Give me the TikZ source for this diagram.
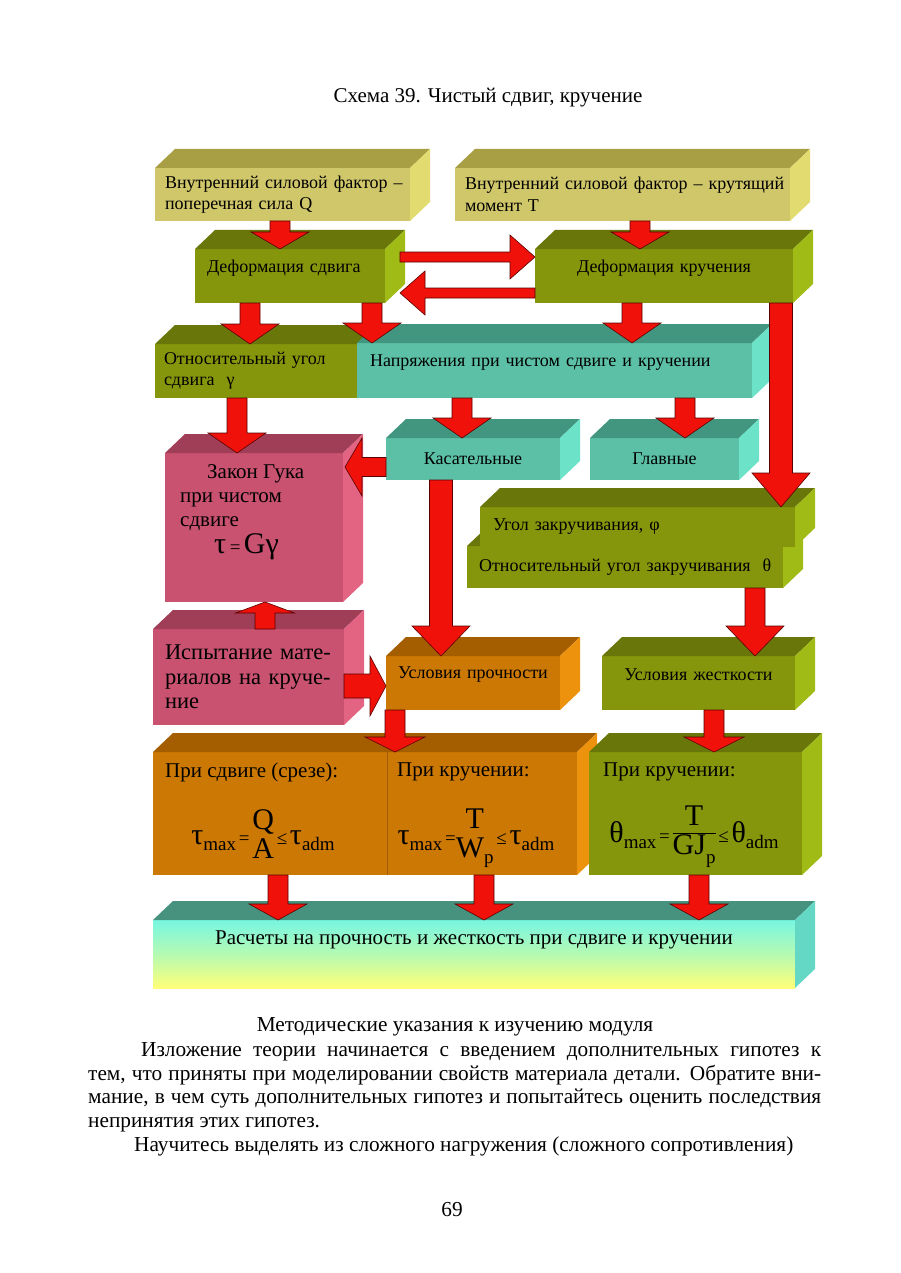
\documentclass[tikz,border=0pt]{standalone}
\usepackage{fontspec}
\setmainfont{Liberation Serif}
\usepackage{tikz}
\usetikzlibrary{calc}

\definecolor{khakifront}{RGB}{208,199,107}
\definecolor{khakitop}{RGB}{168,158,68}
\definecolor{khakiside}{RGB}{226,220,112}
\definecolor{olivefront}{RGB}{134,150,12}
\definecolor{olivetop}{RGB}{104,118,10}
\definecolor{oliveside}{RGB}{160,186,22}
\definecolor{tealfront}{RGB}{92,192,166}
\definecolor{tealtop}{RGB}{66,150,128}
\definecolor{tealside}{RGB}{108,226,200}
\definecolor{pinkfront}{RGB}{200,82,112}
\definecolor{pinktop}{RGB}{160,62,88}
\definecolor{pinkside}{RGB}{226,100,130}
\definecolor{orangefront}{RGB}{204,120,4}
\definecolor{orangetop}{RGB}{164,94,0}
\definecolor{orangeside}{RGB}{236,146,12}
\definecolor{calctop}{RGB}{70,146,126}
\definecolor{calcside}{RGB}{100,216,196}
\definecolor{calcup}{RGB}{120,246,226}
\definecolor{calcdown}{RGB}{255,255,120}
\definecolor{arrred}{RGB}{240,18,10}
\definecolor{arrline}{RGB}{90,0,0}

\newcommand{\boxfont}{\fontsize{18}{21.5}\selectfont}
\newcommand{\bigboxfont}{\fontsize{21}{24}\selectfont}
\newcommand{\pagefont}{\fontsize{21.3}{23.6}\selectfont}
\newcommand{\headfont}{\fontsize{21}{24}\selectfont}
\newcommand{\fbig}{\fontsize{30}{30}\selectfont}
\newcommand{\fsml}{\fontsize{19}{19}\selectfont}
\newcommand{\low}[1]{\raisebox{-6pt}{\fsml #1}}
\newcommand{\stk}[2]{\begin{tabular}{@{}c@{}}#1\\[-1pt]#2\end{tabular}}
\newcommand{\upt}[1]{\raisebox{8pt}[\height][\depth]{#1}}

% top and side faces of a box node
\newcommand{\cubefaces}[2]{%
  \fill[#2top] (#1.north west) -- ++(20,-19) -- ([shift={(20,-19)}]#1.north east) -- (#1.north east) -- cycle;
  \fill[#2side] (#1.north east) -- ++(20,-19) -- ([shift={(20,-19)}]#1.south east) -- (#1.south east) -- cycle;
}

\tikzset{
  cube/.style={anchor=north west, inner sep=0pt, outer sep=0pt, font=\boxfont, align=left},
  redarrow/.style={fill=arrred, draw=arrline, line width=0.6pt, line join=miter},
  blk/.style n args={3}{redarrow, to path={
    ($(\tikztotarget)!#3!(\tikztostart)$) coordinate (hb)
    ($(\tikztostart)!#1!90:(\tikztotarget)$) -- ($(hb)!#1!90:(\tikztotarget)$)
    -- ($(hb)!#2!90:(\tikztotarget)$) -- (\tikztotarget)
    -- ($(hb)!#2!-90:(\tikztotarget)$) -- ($(hb)!#1!-90:(\tikztotarget)$)
    -- ($(\tikztostart)!#1!-90:(\tikztotarget)$) -- cycle}},
  pageline/.style={anchor=base west, inner sep=0pt, font=\pagefont},
}

\begin{document}
\begin{tikzpicture}[x=1pt, y=-1pt]
\fill[white] (0,0) rectangle (900,1273);
\useasboundingbox (0,0) rectangle (900,1273);

\node[anchor=base, font=\fontsize{21}{24}\selectfont] (title) at (488,103) {Схема 39. Чистый сдвиг, кручение};

% boxes
\node[cube, fill=khakifront, minimum width=255, minimum height=53, text width=235] (fqA) at (155,168) {\mbox{Внутренний силовой фактор --}\\\mbox{поперечная сила Q}};
\cubefaces{fqA}{khaki}
\node[cube, fill=khakifront, minimum width=335, minimum height=53, text width=315] (fqB) at (455,168) {\mbox{Внутренний силовой фактор -- крутящий}\\\mbox{момент T}};
\cubefaces{fqB}{khaki}
\node[cube, fill=olivefront, minimum width=190, minimum height=54, text width=166] (defS) at (195,249) {\upt{Деформация сдвига}};
\cubefaces{defS}{olive}
\node[cube, fill=olivefront, minimum width=258, minimum height=54, text width=240, align=center] (defT) at (535,249) {\upt{Деформация кручения}};
\cubefaces{defT}{olive}
\node[cube, fill=olivefront, minimum width=202, minimum height=54, text width=184] (angS) at (155,344) {\mbox{Относительный угол}\\\mbox{сдвига \ γ}};
\cubefaces{angS}{olive}
\node[cube, fill=tealfront, minimum width=395, minimum height=55, text width=369] (stress) at (357,343) {\upt{Напряжения при чистом сдвиге и кручении}};
\cubefaces{stress}{teal}
\node[cube, fill=pinkfront, minimum width=178, minimum height=149] (hooke) at (165,453) {};
\cubefaces{hooke}{pink}
\node[anchor=north west, align=left, inner sep=0pt, font=\bigboxfont] (hookeTxt) at ($(hooke.north west)+(15,11)$)
  {\hspace*{27pt}Закон Гука\\при чистом\\сдвиге\\[3pt]\hspace*{34pt}{\fbig τ}\,{\fsml =}\,{\fbig Gγ}};
\node[cube, fill=tealfront, minimum width=174, minimum height=42, text width=160, align=center] (tang) at (386,438) {Касательные};
\cubefaces{tang}{teal}
\node[cube, fill=tealfront, minimum width=149, minimum height=42, text width=135, align=center] (princ) at (590,438) {Главные};
\cubefaces{princ}{teal}
\node[cube, fill=olivefront, minimum width=316, minimum height=42, text width=292] (relT) at (467,546) {\mbox{Относительный угол закручивания \ θ}};
\cubefaces{relT}{olive}
\node[cube, fill=olivefront, minimum width=315, minimum height=40, text width=289] (twist) at (480,507) {Угол закручивания, φ};
\cubefaces{twist}{olive}
\node[cube, fill=pinkfront, minimum width=191, minimum height=96, text width=167, font=\fontsize{22.5}{24.5}\selectfont] (test) at (153,629) {\mbox{Испытание мате-}\\\mbox{риалов на круче-}\\ние};
\cubefaces{test}{pink}
\node[cube, fill=orangefront, minimum width=174, minimum height=54, text width=160, align=center] (strC) at (386,656) {\upt{Условия прочности}};
\cubefaces{strC}{orange}
\node[cube, fill=olivefront, minimum width=193, minimum height=54, text width=179, align=center] (rigC) at (602,656) {\upt{Условия жесткости}};
\cubefaces{rigC}{olive}
\node[cube, fill=orangefront, minimum width=424, minimum height=123] (strF) at (153,752) {};
\cubefaces{strF}{orange}
\draw[orangetop, line width=0.5pt] (strF.north -| 387,0) -- (strF.south -| 387,0);
\node[cube, fill=olivefront, minimum width=213, minimum height=123] (rigF) at (589,752) {};
\cubefaces{rigF}{olive}
\node[cube, top color=calcup, bottom color=calcdown, middle color=calcup!55!calcdown, minimum width=642, minimum height=68] (calc) at (153,920) {};
\cubefaces{calc}{calc}

% texts in the formula boxes
\node[anchor=west, inner sep=0pt, font=\headfont] (shearHd) at ($(strF.north west)+(12,20)$) {При сдвиге (срезе):};
\node[anchor=west, inner sep=0pt, font=\headfont] (torHd) at ($(strF.north west)+(244,20)$) {При кручении:};
\node[anchor=west, inner sep=0pt, font=\headfont] (rigHd) at ($(rigF.north west)+(14,20)$) {При кручении:};
\node[inner sep=0pt] (frmShear) at ($(strF.north west)+(110,86)$)
  {{\fbig τ}\low{max}\;{\fsml =}\;{\fbig\stk{Q}{A}}\;{\fsml ≤}\;{\fbig τ}\low{adm}};
\node[inner sep=0pt] (frmTor) at ($(strF.north west)+(323,86)$)
  {{\fbig τ}\low{max}\;{\fsml =}{\fbig\stk{T}{W\low{p}}}\;{\fsml ≤}\;{\fbig τ}\low{adm}};
\node[inner sep=0pt] (frmRig) at ($(rigF.north west)+(105,84)$)
  {{\fbig θ}\low{max}\;{\fsml =}\;{\fbig\begin{tabular}{@{}c@{}}T\\[-2pt]\hline GJ\raisebox{-9pt}{\fsml p}\end{tabular}}\;{\fsml ≤}\;{\fbig θ}\low{adm}};
\node[inner sep=0pt, font=\fontsize{21}{24}\selectfont] (calcTxt) at ($(calc.north)+(0,20)$) {Расчеты на прочность и жесткость при сдвиге и кручении};

% arrows
\draw[blk={10pt}{29pt}{17pt}] (fqA.south -| 280,0) to (defS.north -| 280,0);
\draw[blk={10pt}{29pt}{17pt}] (fqB.south -| 640,0) to (defT.north -| 640,0);
\draw[blk={5pt}{22pt}{25pt}] ($(defS.east)+(15,-19)$) to ($(defT.west)+(0,-19)$);
\draw[blk={5pt}{22pt}{25pt}] ($(defT.west)+(0,17)$) to ($(defS.east)+(15,17)$);
\draw[blk={10pt}{29pt}{20pt}] (defS.south -| 250,0) to (angS.north -| 250,0);
\draw[blk={10pt}{29pt}{20pt}] (defS.south -| 372,0) to (stress.north -| 372,0);
\draw[blk={10pt}{29pt}{20pt}] (defT.south -| 632,0) to (stress.north -| 632,0);
\draw[blk={11.5pt}{29pt}{34pt}] (defT.south -| 781,0) to (twist.north -| 781,0);
\draw[blk={10pt}{29pt}{20pt}] (angS.south -| 237,0) to (hooke.north -| 237,0);
\draw[blk={10pt}{29pt}{20pt}] (stress.south -| 462,0) to (tang.north -| 462,0);
\draw[blk={10pt}{29pt}{20pt}] (stress.south -| 685,0) to (princ.north -| 685,0);
\draw[blk={9.5pt}{29pt}{17pt}] ($(tang.west)+(0,8)$) to ($(hooke.east |- tang.west)+(2,8)$);
\draw[blk={11.5pt}{29pt}{30pt}] (tang.south -| 441,0) to (strC.north -| 441,0);
\draw[blk={10pt}{29pt}{30pt}] (relT.south -| 755,0) to (rigC.north -| 755,0);
\draw[blk={10pt}{29.5pt}{11pt}] (test.north -| 265,0) to (hooke.south -| 265,0);
\draw[blk={12pt}{30pt}{16pt}] ($(test.east)+(0,9)$) to ($(strC.west |- test.east)+(0,9)$);
\draw[blk={10pt}{30pt}{15pt}] (strC.south -| 395,0) to (strF.north -| 395,0);
\draw[blk={10pt}{30pt}{15pt}] (rigC.south -| 714,0) to (rigF.north -| 714,0);
\draw[blk={10pt}{29pt}{16pt}] (strF.south -| 278,0) to (calc.north -| 278,0);
\draw[blk={10pt}{29pt}{16pt}] (strF.south -| 484,0) to (calc.north -| 484,0);
\draw[blk={10pt}{29pt}{16pt}] (rigF.south -| 699,0) to (calc.north -| 699,0);

% text of the page
\node[anchor=base, inner sep=0pt, font=\pagefont] (methHd) at (455,1031) {Методические указания к изучению модуля};
\node[pageline] (par1) at (141,1056) {\makebox[680pt][s]{Изложение теории начинается с введением дополнительных гипотез к}};
\node[pageline] (par2) at (88,1080) {\makebox[733pt][s]{тем, что приняты при моделировании свойств материала детали. Обратите вни-}};
\node[pageline] (par3) at (88,1103) {\makebox[733pt][s]{мание, в чем суть дополнительных гипотез и попытайтесь оценить последствия}};
\node[pageline] (par4) at (88,1127) {непринятия этих гипотез.};
\node[pageline] (par5) at (134,1151) {Научитесь выделять из сложного нагружения (сложного сопротивления)};
\node[anchor=base, inner sep=0pt, font=\pagefont] (pageNo) at (452,1216) {69};
\end{tikzpicture}
\end{document}
